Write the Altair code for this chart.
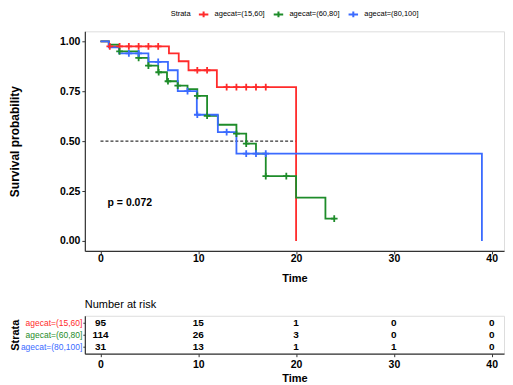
import altair as alt
import pandas as pd

FONT = "Liberation Sans"

strata = ["agecat=(15,60]", "agecat=(60,80]", "agecat=(80,100]"]
colors = ["#FF2B2B", "#1E8C2A", "#3B6BFF"]

# Kaplan-Meier step curves (time, survival)
red_t = [0, 0.85, 7.0, 8.0, 9.0, 11.9, 20.0]
red_s = [1.0, 0.975, 0.94, 0.90, 0.855, 0.77, 0.0]
green_t = [0, 0.85, 1.9, 3.9, 4.9, 5.9, 6.8, 7.9, 8.9, 9.9, 10.9, 12.0, 13.9, 14.9, 15.9, 16.9, 20.0, 23.0, 24.0]
green_s = [1.0, 0.983, 0.95, 0.917, 0.878, 0.845, 0.80, 0.778, 0.76, 0.727, 0.627, 0.582, 0.537, 0.487, 0.437, 0.325, 0.217, 0.112, 0.112]
blue_t = [0, 0.85, 1.9, 4.9, 6.9, 7.9, 9.85, 12.0, 13.9, 39.0]
blue_s = [1.0, 0.97, 0.94, 0.897, 0.855, 0.75, 0.632, 0.545, 0.437, 0.0]

# censoring marks
red_ct = [0.95, 1.95, 2.9, 3.9, 4.9, 5.9, 9.9, 10.9, 12.9, 13.9, 14.9, 15.9, 16.9]
red_cs = [0.975, 0.975, 0.975, 0.975, 0.975, 0.975, 0.855, 0.855, 0.77, 0.77, 0.77, 0.77, 0.77]
green_ct = [1.95, 3.9, 4.9, 5.95, 6.9, 7.9, 9.9, 10.9, 13.9, 14.9, 16.9, 19.0, 23.9]
green_cs = [0.95, 0.917, 0.878, 0.845, 0.80, 0.778, 0.727, 0.627, 0.537, 0.487, 0.325, 0.325, 0.112]
blue_ct = [2.9, 3.9, 5.9, 8.9, 9.9, 12.9, 14.9, 15.9, 16.9]
blue_cs = [0.94, 0.94, 0.897, 0.75, 0.632, 0.545, 0.437, 0.437, 0.437]

# number at risk
risk_times = [0, 10, 20, 30, 40]
risk_red = [95, 15, 1, 0, 0]
risk_green = [114, 26, 3, 0, 0]
risk_blue = [31, 13, 1, 1, 0]

x_ticks = [0, 10, 20, 30, 40]
y_ticks = [0, 0.25, 0.5, 0.75, 1.0]
p_label = "p = 0.072"

def frame(ts, ss, name):
    return pd.DataFrame({"t": ts, "s": ss, "strata": name})

lines_df = pd.concat([frame(red_t, red_s, strata[0]), frame(green_t, green_s, strata[1]),
                      frame(blue_t, blue_s, strata[2])])
cens_df = pd.concat([frame(red_ct, red_cs, strata[0]), frame(green_ct, green_cs, strata[1]),
                     frame(blue_ct, blue_cs, strata[2])])
risk_df = pd.concat([
    pd.DataFrame({"t": risk_times, "n": risk_red, "strata": strata[0]}),
    pd.DataFrame({"t": risk_times, "n": risk_green, "strata": strata[1]}),
    pd.DataFrame({"t": risk_times, "n": risk_blue, "strata": strata[2]}),
])
median_df = pd.DataFrame({"t": [0, 20], "s": [0.5, 0.5]})

PW = 420
xscale = alt.Scale(domain=[-1.6, 41.26], nice=False, zero=False)
yscale = alt.Scale(domain=[-0.05, 1.05], nice=False, zero=False)

xaxis_main = alt.Axis(values=x_ticks, title="Time", labelFontWeight="bold", labelFontSize=10.5,
                      titleFontSize=11, titleFontWeight="bold", tickSize=3, labelPadding=0,
                      titlePadding=8)
xaxis_risk = alt.Axis(values=x_ticks, title="Time", labelFontWeight="bold", labelFontSize=10.5,
                      titleFontSize=11, titleFontWeight="bold", tickSize=3, labelPadding=3,
                      titlePadding=2)
yaxis = alt.Axis(values=y_ticks, format=".2f", title="Survival probability", labelFontWeight="bold",
                 labelFontSize=10.5, titleFontSize=12, titleFontWeight="bold", tickSize=3,
                 labelPadding=2, titlePadding=38)

color = alt.Color("strata:N", scale=alt.Scale(domain=strata, range=colors),
                  legend=alt.Legend(title="Strata", orient="none", legendX=86, legendY=-23,
                                    direction="horizontal", titleOrient="left",
                                    symbolType="M-1,0L1,0M0,-0.6L0,0.6", symbolSize=90,
                                    symbolStrokeWidth=2, labelFontSize=7.5, titleFontSize=7.5,
                                    titleFontWeight="normal", labelOffset=5, columnPadding=4,
                                    titlePadding=6, padding=0))

lines = alt.Chart(lines_df).mark_line(interpolate="step-after", strokeWidth=1.8).encode(
    x=alt.X("t:Q", scale=xscale, axis=xaxis_main),
    y=alt.Y("s:Q", scale=yscale, axis=yaxis), color=color)
cens = alt.Chart(cens_df).mark_point(shape="M-1,0L1,0M0,-1L0,1", filled=False, size=45,
                                     strokeWidth=1.8, opacity=1).encode(
    x="t:Q", y="s:Q", color=alt.Color("strata:N"))
median = alt.Chart(median_df).mark_line(color="black", strokeDash=[3, 2], strokeWidth=1).encode(
    x="t:Q", y="s:Q")
ptext = alt.Chart(pd.DataFrame({"t": [3.0], "s": [0.19], "lab": [p_label]})).mark_text(
    fontSize=10.5, fontWeight="bold", color="black").encode(x="t:Q", y="s:Q", text="lab:N")

main = alt.layer(median, lines, cens, ptext).properties(width=PW, height=220)

label_expr = ("datum.value == '%s' ? '%s' : datum.value == '%s' ? '%s' : '%s'"
              % (strata[0], colors[0], strata[1], colors[1], colors[2]))

risk = alt.Chart(risk_df).mark_text(fontSize=10, fontWeight="bold", color="black").encode(
    x=alt.X("t:Q", scale=xscale, axis=xaxis_risk),
    y=alt.Y("strata:N", sort=strata, scale=alt.Scale(type="point", padding=0.6),
            axis=alt.Axis(title="Strata", labelColor=alt.ExprRef(label_expr), labelFontSize=8.5,
                          titleFontSize=11, titleFontWeight="bold", tickSize=2, labelPadding=1,
                          titlePadding=0)),
    text="n:Q",
).properties(width=PW, height=38,
             title=alt.Title("Number at risk", anchor="start", frame="group", fontSize=11,
                             fontWeight="normal", offset=6))

chart = alt.vconcat(main, risk, spacing=14).properties(padding=0).configure_view(
    stroke=None).configure(font=FONT).configure_axis(
    grid=False, domainColor="#333333", tickColor="#333333", labelColor="black",
    titleColor="black", domainWidth=1.2)

chart.save("out.html", embed_options={"renderer": "svg", "actions": False})
